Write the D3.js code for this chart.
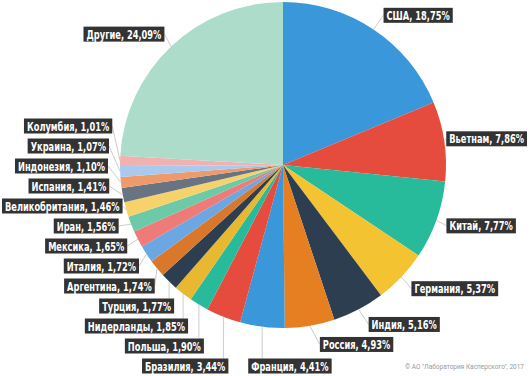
<!DOCTYPE html>
<html>
<head>
<meta charset="utf-8">
<script src="https://cdn.jsdelivr.net/npm/d3@7"></script>
<style>
  body { margin: 0; background: #fff; }
  svg { display: block; }
  .lbl text { font-family: "Liberation Sans Narrow", "DejaVu Sans Condensed", "Roboto", sans-serif; font-weight: bold; font-size: 11.5px; fill: #fff; }
</style>
</head>
<body>
<div id="wrapper"></div>
<script>
const countries = ["США", "Вьетнам", "Китай", "Германия", "Индия", "Россия", "Франция",
  "Бразилия", "Польша", "Нидерланды", "Турция", "Аргентина", "Италия", "Мексика",
  "Иран", "Великобритания", "Испания", "Индонезия", "Украина", "Колумбия", "Другие"];
const shares = [18.75, 7.86, 7.77, 5.37, 5.16, 4.93, 4.41, 3.44, 1.90, 1.85, 1.77, 1.74,
  1.72, 1.65, 1.56, 1.46, 1.41, 1.10, 1.07, 1.01, 24.09];
const colors = ["#3a97d9", "#e54c3e", "#27bb9b", "#f4c331", "#2c3e50", "#e67e22", "#3a97d9",
  "#e54c3e", "#27bb9b", "#e8b830", "#2c3e50", "#d9772b", "#6ba7e3", "#ee7b78",
  "#6ccaa8", "#f7d16a", "#687482", "#ee9a6a", "#a9c9ef", "#f2b1b1", "#addccb"];

async function drawPie() {
  const dataset = countries.map((c, i) => ({ name: c, value: shares[i], color: colors[i] }));
  const fmt = (v) => v.toFixed(2).replace(".", ",") + "%";

  const dimensions = { width: 530, height: 376, cx: 283, cy: 165, radius: 163 };
  const labelRadius = 180;
  const boxH = 15;
  const rowStep = 20;
  const bottomY = 366;
  const squeeze = 0.8; // condensed look of the original label font

  const wrapper = d3.select("#wrapper").append("svg")
    .attr("width", dimensions.width)
    .attr("height", dimensions.height);

  const bounds = wrapper.append("g")
    .attr("transform", `translate(${dimensions.cx},${dimensions.cy})`);

  const pie = d3.pie().sort(null).value((d) => d.value).startAngle(0).endAngle(2 * Math.PI);
  const arcs = pie(dataset);
  const arcGen = d3.arc().innerRadius(0).outerRadius(dimensions.radius);

  bounds.selectAll("path.slice").data(arcs).join("path")
    .attr("class", "slice")
    .attr("d", arcGen)
    .attr("fill", (d) => d.data.color);

  // label layout
  const R = labelRadius;
  const items = arcs.map((d) => {
    const a = (d.startAngle + d.endAngle) / 2;
    return {
      d, a,
      ax: dimensions.radius * Math.sin(a),
      ay: -dimensions.radius * Math.cos(a),
      y: -R * Math.cos(a),
      side: a < Math.PI ? "right" : (a < Math.PI * 190 / 180 ? "bottom" : "left"),
    };
  });

  const bottomLimit = bottomY - dimensions.cy;
  const right = items.filter((o) => o.side === "right").sort((p, q) => p.y - q.y);
  for (let i = 1; i < right.length; i++) {
    right[i].y = Math.max(right[i].y, right[i - 1].y + rowStep);
  }
  const left = items.filter((o) => o.side === "left").sort((p, q) => p.y - q.y);
  for (let i = 1; i < left.length; i++) {
    left[i].y = Math.max(left[i].y, left[i - 1].y + rowStep);
  }
  for (let i = left.length - 1; i >= 0; i--) {
    const lim = i === left.length - 1 ? bottomLimit : left[i + 1].y - rowStep;
    left[i].y = Math.min(left[i].y, lim);
  }
  items.filter((o) => o.side === "bottom").forEach((o) => (o.y = bottomLimit));

  const circX = (y) => (Math.abs(y) < R ? Math.sqrt(R * R - y * y) : 0);

  const labels = bounds.selectAll("g.lbl").data(items).join("g").attr("class", "lbl");
  labels.append("text")
    .attr("dy", "0.35em")
    .text((o) => `${o.d.data.name}, ${fmt(o.d.data.value)}`);

  labels.each(function (o) {
    const g = d3.select(this);
    const t = g.select("text");
    const tw = t.node().getComputedTextLength() * squeeze;
    const w = tw + 6;
    let x0;
    if (o.side === "right") {
      x0 = Math.max(circX(o.y) - 6, o.ax + 10);
      x0 = Math.min(x0, dimensions.width - 3 - dimensions.cx - w);
    } else if (o.side === "left") {
      x0 = Math.min(-circX(o.y) + 5, o.ax + 5) - w;
      x0 = Math.max(x0, 2 - dimensions.cx);
    } else x0 = o.ax - 14;
    o.x0 = x0; o.w = w;
    g.insert("rect", "text")
      .attr("x", x0).attr("y", o.y - boxH / 2)
      .attr("width", w).attr("height", boxH)
      .attr("fill", "#333333");
    t.attr("transform", `translate(${x0 + 3},${o.y + 0.5}) scale(${squeeze},1)`);
  });

  // connectors
  const inside = (o) => o.ax > o.x0 && o.ax < o.x0 + o.w;
  bounds.insert("g", "g.lbl").selectAll("line").data(items).join("line")
    .attr("x1", (o) => o.ax).attr("y1", (o) => o.ay)
    .attr("x2", (o) => (inside(o) ? o.ax : o.side === "right" ? o.x0 : o.x0 + o.w))
    .attr("y2", (o) => (inside(o) ? o.y - boxH / 2 : o.y))
    .attr("stroke", "#cccccc")
    .attr("stroke-width", 1);

  wrapper.append("text")
    .attr("x", 524).attr("y", 369)
    .attr("text-anchor", "end")
    .style("font-family", "Roboto, sans-serif")
    .style("font-size", "6.5px")
    .style("fill", "#9a9a9a")
    .text("© АО \"Лаборатория Касперского\", 2017");
}

drawPie();
</script>
</body>
</html>
